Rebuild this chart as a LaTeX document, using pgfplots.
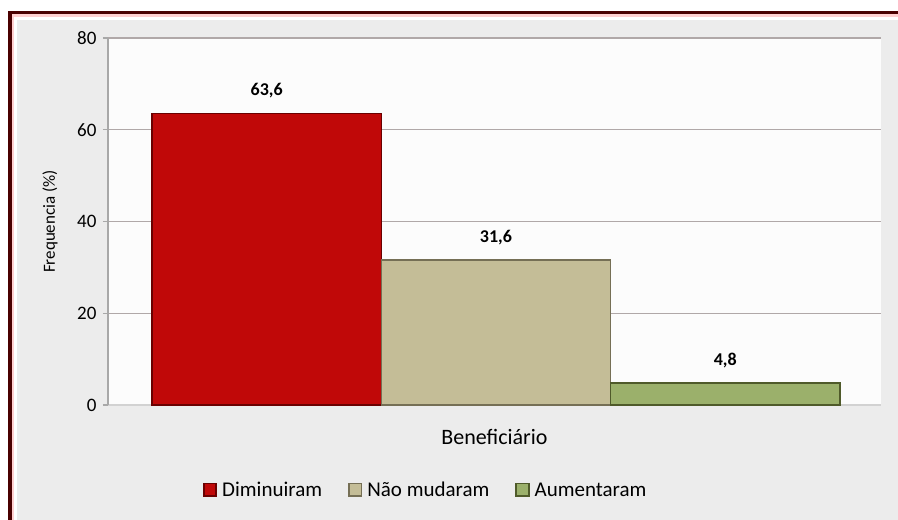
\documentclass[border=0pt]{standalone}
\usepackage{fontspec}
\setmainfont{Carlito}
\usepackage{pgfplots}
\pgfplotsset{compat=1.18}
\definecolor{bgGray}{HTML}{ECECEC}
\definecolor{frameRed}{HTML}{4A0000}
\definecolor{framePink}{HTML}{FFD0D0}
\definecolor{plotWhite}{HTML}{FCFCFC}
\definecolor{gridGray}{HTML}{B0A8A8}
\definecolor{axGray}{HTML}{A8A8A8}
\definecolor{redFill}{HTML}{C00808}
\definecolor{redEdge}{HTML}{6A0000}
\definecolor{tanFill}{HTML}{C4BD97}
\definecolor{tanEdge}{HTML}{756F55}
\definecolor{greenFill}{HTML}{9BB06B}
\definecolor{greenEdge}{HTML}{4F5A2A}
\begin{document}
\begin{tikzpicture}
\useasboundingbox (0,0) rectangle (898pt,520pt);
\begin{scope}
\clip (0,0) rectangle (898pt,520pt);
\fill[white] (0,0) rectangle (898pt,520pt);
\fill[bgGray] (17pt,-5pt) rectangle (905pt,500pt);
\draw[line width=3.5pt, frameRed] (9.8pt,-10pt) -- (9.8pt,507.5pt) -- (910pt,507.5pt);
\draw[line width=2.5pt, framePink] (13pt,-10pt) -- (13pt,504.5pt) -- (910pt,504.5pt);
\end{scope}
\begin{axis}[
  at={(108pt,115pt)}, anchor=south west,
  scale only axis, width=773pt, height=367pt,
  ybar,
  xmin=-0.692, xmax=2.679,
  ymin=0, ymax=80,
  ytick={0,20,40,60,80},
  xtick=\empty,
  axis x line*=bottom, axis y line*=left,
  x axis line style={draw=gray!35, line width=2pt, -},
  y axis line style={draw=axGray, line width=1.5pt, -},
  axis background/.style={fill=plotWhite},
  ymajorgrids,
  grid style={draw=gridGray, line width=1.4pt},
  ytick style={draw=axGray, line width=1.4pt},
  tick align=outside,
  major tick length=5pt,
  /pgf/number format/assume math mode=true,
  yticklabel style={font=\fontsize{19}{21}\selectfont, xshift=-3pt},
  ylabel={Frequencia (\%)},
  ylabel style={at={(axis description cs:-0.075,0.5)}, anchor=center, font=\fontsize{17}{19}\selectfont},
  xlabel={Beneficiário},
  xlabel style={at={(axis description cs:0.5,-0.087)}, anchor=center, font=\fontsize{22}{24}\selectfont},
  bar width=1,
  nodes near coords,
  every node near coord/.append style={font=\bfseries\fontsize{18}{20}\selectfont, yshift=11pt,
    /pgf/number format/.cd, use comma, fixed, fixed zerofill, precision=1, assume math mode=true},
  legend style={at={(0.411,-0.232)}, anchor=center, draw=none, fill=none,
    legend columns=-1, font=\fontsize{21}{23}\selectfont,
    /tikz/every odd column/.append style={column sep=3pt},
    /tikz/every even column/.append style={column sep=24pt}},
  legend image code/.code={\fill[#1] (0pt,-6pt) rectangle (13pt,7pt); \draw[#1, fill=none] (0.5pt,-5.5pt) rectangle (12.5pt,6.5pt);},
]
\addplot[fill=redFill, draw=redEdge, line width=1.2pt, bar shift=0pt] coordinates {(0,63.6)};
\addplot[fill=tanFill, draw=tanEdge, line width=1.2pt, bar shift=0pt] coordinates {(1,31.6)};
\addplot[fill=greenFill, draw=greenEdge, line width=1.2pt, bar shift=0pt] coordinates {(2,4.8)};
\legend{Diminuiram, Não mudaram, Aumentaram}
\end{axis}
\end{tikzpicture}
\end{document}
